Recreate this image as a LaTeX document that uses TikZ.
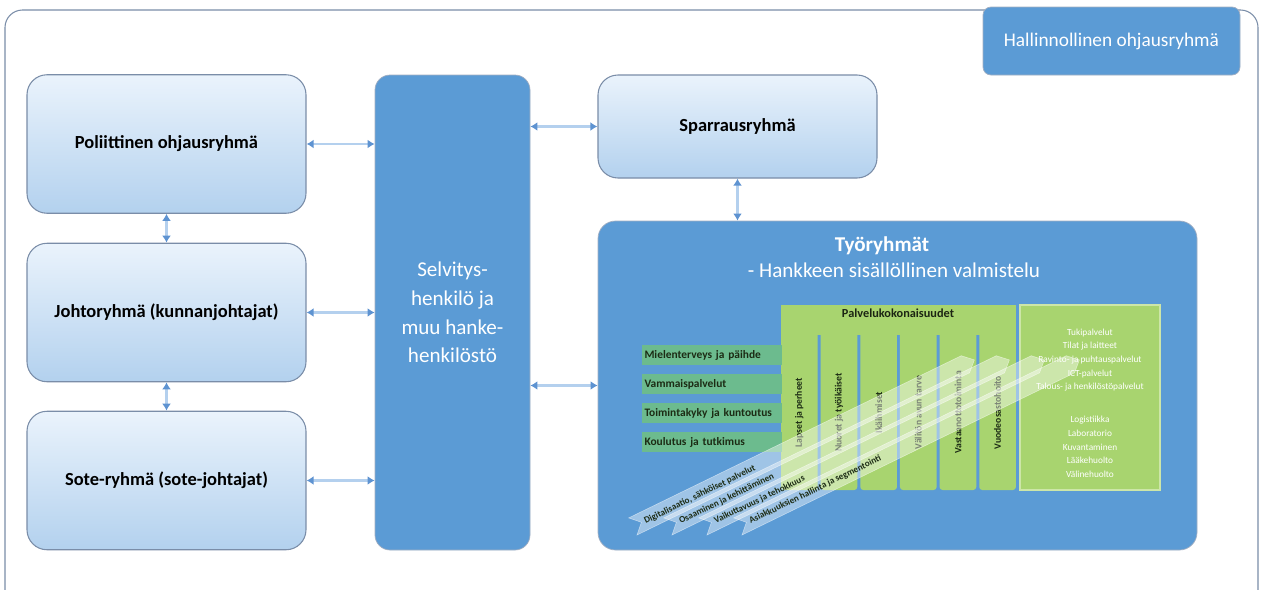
\documentclass[tikz,border=0pt]{standalone}
\usepackage{fontspec}
\setmainfont{Carlito}
\usetikzlibrary{arrows.meta}

\definecolor{officeblue}{HTML}{5B9BD5}
\definecolor{gradtop}{HTML}{EAF3FC}
\definecolor{gradbot}{HTML}{B3D1EE}
\definecolor{boxline}{HTML}{7A8DA8}
\definecolor{linkline}{HTML}{B4D0EE}
\definecolor{linkhead}{HTML}{5E93D1}
\definecolor{lime}{HTML}{A8D46F}
\definecolor{limeline}{HTML}{CDE6A8}
\definecolor{rowgreen}{HTML}{6CBB8E}
\definecolor{darktext}{HTML}{1C2B14}

\begin{document}
\begin{tikzpicture}[
    every node/.style={align=center},
    group box/.style={draw=boxline, line width=0.6pt, rounded corners=0.4cm, top color=gradtop, bottom color=gradbot, minimum width=5.58cm, minimum height=2.77cm, font=\bfseries\fontsize{10.5}{13}\selectfont},
    blue box/.style={draw=boxline!70, line width=0.4pt, fill=officeblue, text=white},
    link/.style={draw=linkline, line width=1.4pt, {Latex[length=4pt,width=5pt,color=linkhead]}-{Latex[length=4pt,width=5pt,color=linkhead]}},
    row label/.style={fill=rowgreen, minimum width=2.8cm, minimum height=0.4cm, text width=2.7cm, align=left, text=darktext, font=\bfseries\fontsize{6.5}{7}\selectfont, inner sep=1pt},
    column text/.style={rotate=90, text=darktext, font=\bfseries\fontsize{5.5}{6}\selectfont},
    band/.style={fill=white, fill opacity=0.42, draw=white, draw opacity=0.5, line width=0.3pt},
    band text/.style={transform shape, anchor=west, inner sep=0pt, text=darktext, font=\bfseries\fontsize{5.2}{6}\selectfont},
    support text/.style={text=white, font=\fontsize{5.3}{7.8}\selectfont},
    ]
\clip (0,0) rectangle (25.30,-11.80);
\draw[draw=boxline, line width=0.6pt, rounded corners=0.35cm, fill=white] (0.10,-0.20) rectangle (25.16,-12.40);

\node[blue box, rounded corners=0.16cm, minimum width=5.14cm, minimum height=1.36cm, font=\fontsize{11}{13}\selectfont] (hallinto) at (22.23,-0.82) {Hallinnollinen ohjausryhmä};
\node[group box] (poliit) at (3.33,-2.88) {Poliittinen ohjausryhmä};
\node[group box] (johto) at (3.33,-6.25) {Johtoryhmä (kunnanjohtajat)};
\node[group box] (sote) at (3.33,-9.61) {Sote-ryhmä (sote-johtajat)};
\node[blue box, rounded corners=0.3cm, minimum width=3.10cm, minimum height=9.50cm, font=\fontsize{12}{16.4}\selectfont] (selv) at (9.05,-6.25) {Selvitys-\\henkilö ja\\muu hanke-\\henkilöstö};
\node[group box, minimum height=2.06cm] (sparr) at (14.75,-2.53) {Sparrausryhmä};
\node[blue box, rounded corners=0.35cm, minimum width=11.98cm, minimum height=6.58cm] (tyo) at (17.95,-7.71) {};
\node[text=white, font=\bfseries\fontsize{12}{14}\selectfont] (tyotitle) at (17.64,-4.92) {Työryhmät};
\node[text=white, font=\fontsize{12}{14}\selectfont] (tyosub) at (17.88,-5.40) {- Hankkeen sisällöllinen valmistelu};

\draw[link] (poliit.east) -- (poliit.east -| selv.west);
\draw[link] (johto.east) -- (johto.east -| selv.west);
\draw[link] (sote.east) -- (sote.east -| selv.west);
\draw[link] (poliit.south) -- (johto.north);
\draw[link] (johto.south) -- (sote.north);
\draw[link] (sparr.west -| selv.east) -- (sparr.west);
\draw[link] (selv.east |- tyo.west) -- (tyo.west);
\draw[link] (sparr.south) -- (tyo.north -| sparr.south);

% palvelukokonaisuudet
\fill[lime] (15.62,-6.10) rectangle (20.32,-6.70);
\node[text=darktext!70!lime!40!black, font=\bfseries\fontsize{7}{8}\selectfont] (palvelu) at (17.96,-6.27) {Palvelukokonaisuudet};
\foreach \name [count=\i from 0] in {Lapset ja perheet, Nuoret ja työikäiset, Ikäihmiset, Välitön avun tarve, Vastaanottotoiminta, Vuodeosastohoito} {
  \fill[lime, rounded corners=0.06cm] ({15.62+\i*0.793},-6.40) rectangle ({15.62+\i*0.793+0.733},-9.80);
  \node[column text] (col\i) at ({15.62+\i*0.793+0.367},-8.25) {\name};
}
\node[fill=lime, draw=limeline, line width=0.8pt, minimum width=2.80cm, minimum height=3.70cm] (tuki) at (21.80,-7.95) {};
\node[support text] (tukilist) at (21.80,-7.20) {Tukipalvelut\\Tilat ja laitteet\\Ravinto- ja puhtauspalvelut\\ICT-palvelut\\Talous- ja henkilöstöpalvelut};
\node[support text] (medlist) at (21.80,-8.94) {Logistiikka\\Laboratorio\\Kuvantaminen\\Lääkehuolto\\Välinehuolto};

\foreach \name [count=\i from 0] in {Mielenterveys ja päihde, Vammaispalvelut, Toimintakyky ja kuntoutus, Koulutus ja tutkimus}
  \node[row label] (row\i) at (14.24,{-7.10-\i*0.58}) {\name};

% diagonal bands
\foreach \sx/\txt [count=\i from 0] in {12.74/{Digitalisaatio, sähköiset palvelut}, 13.44/Osaaminen ja kehittäminen, 14.14/Vaikuttavuus ja tehokkuus, 14.84/Asiakkuuksien hallinta ja segmentointi} {
  \begin{scope}[shift={(\sx,-10.70)}, rotate=26]
    \draw[band] (0,0) -- (7.40,0) -- (7.60,0.19) -- (7.40,0.38) -- (0,0.38) -- (0.19,0.19) -- cycle;
    \node[band text] (band\i) at (0.25,0.17) {\txt};
  \end{scope}
}
\end{tikzpicture}
\end{document}
